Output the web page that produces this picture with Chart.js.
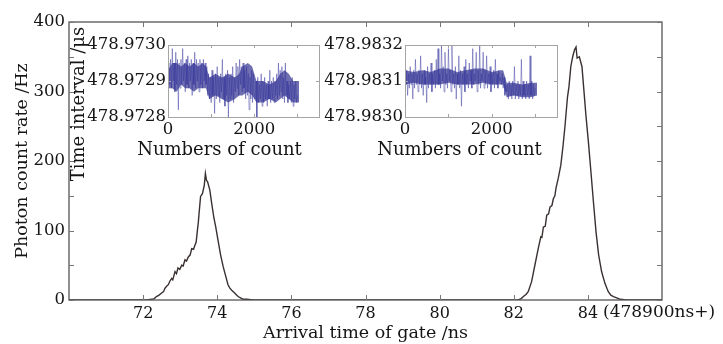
<!DOCTYPE html>
<html><head><meta charset="utf-8">
<script src="https://cdn.jsdelivr.net/npm/chart.js@4.4.1/dist/chart.umd.min.js"></script>
<style>
html,body{margin:0;padding:0;background:#fff;}
#wrap{position:relative;width:723px;height:344px;overflow:hidden;background:#fff;}
canvas{position:absolute;}
</style></head><body>
<div id="wrap">
<canvas id="main" width="723" height="344" style="left:0;top:0"></canvas>
<canvas id="in1" width="265" height="115" style="left:60px;top:25px"></canvas>
<canvas id="in2" width="263" height="115" style="left:300px;top:25px"></canvas>
</div>
<script>
// ---------- data ----------
const mainXTicks = [72, 74, 76, 78, 80, 82, 84];
const mainYTicks = [0, 100, 200, 300, 400];
const mainYMinor = [0, 50, 100, 150, 200, 250, 300, 350, 400];
const xUnitNote = "(478900ns+)";

const mainTime = [
 70, 72.0, 72.1, 72.23, 72.3, 72.36, 72.43, 72.5, 72.55, 72.59,
 72.64, 72.68, 72.72, 72.77, 72.8, 72.86, 72.9, 72.94, 72.99, 73.04,
 73.08, 73.13, 73.17, 73.22, 73.27, 73.31, 73.36, 73.4, 73.43, 73.46,
 73.49, 73.51, 73.55, 73.6, 73.65, 73.68, 73.71, 73.74, 73.8, 73.85,
 73.91, 73.96, 74.02, 74.09, 74.16, 74.23, 74.29, 74.34, 74.39, 74.47,
 74.56, 74.63, 74.7, 74.8, 74.97, 75.1, 82.0, 82.12, 82.2, 82.26,
 82.33, 82.39, 82.48, 82.57, 82.66, 82.73, 82.76, 82.8, 82.85, 82.89,
 82.94, 82.98, 83.03, 83.07, 83.11, 83.14, 83.2, 83.27, 83.33, 83.38,
 83.45, 83.49, 83.54, 83.59, 83.64, 83.68, 83.71, 83.77, 83.84, 83.9,
 83.95, 84.01, 84.08, 84.15, 84.22, 84.29, 84.37, 84.46, 84.55, 84.62,
 84.69, 84.78, 84.87, 85.05, 86
];
const mainRate = [
 0, 0, 0, 1, 2, 5, 7, 10, 12, 17,
 20, 22, 27, 31, 29, 41, 38, 46, 44, 50,
 49, 58, 56, 62, 65, 74, 73, 79, 83, 98,
 112, 125, 149, 153, 165, 182, 172, 170, 158, 139,
 118, 105, 86, 65, 48, 34, 22, 17, 14, 10,
 5, 3, 1, 1, 0, 0, 0, 0, 2, 5,
 8, 12, 26, 50, 74, 91, 90, 105, 106, 122,
 124, 134, 136, 146, 150, 161, 175, 194, 222, 249,
 292, 307, 336, 350, 360, 364, 348, 350, 336, 297,
 264, 230, 186, 141, 98, 65, 41, 24, 12, 7,
 5, 3, 1, 0, 0
];

const insetXTicks = [0, 2000];
const insetMinorX = [1000, 2000, 3000];
const insetCountStep = 20;
const inset1YTicks = [478.9728, 478.9729, 478.9730];
const inset2YTicks = [478.9830, 478.9831, 478.9832];

// dense core band of each inset trace (count, upper, lower)
const inset1CoreCount = [0, 100, 200, 300, 400, 500, 600, 700, 800, 880,
  960, 1100, 1250, 1400, 1550, 1650, 1720, 1850, 1950, 2050,
  2200, 2350, 2500, 2600, 2700, 2800, 2900, 3040];
const inset1CoreUpper = [478.97293, 478.97295, 478.97295, 478.97294, 478.97295, 478.97294, 478.97295, 478.97294, 478.97295, 478.97294,
  478.97291, 478.97292, 478.97291, 478.97292, 478.97291, 478.97292, 478.97294, 478.97295, 478.97294, 478.97290,
  478.97290, 478.97289, 478.97290, 478.97292, 478.97293, 478.97292, 478.97290, 478.97290];
const inset1CoreLower = [478.97288, 478.97288, 478.97287, 478.97289, 478.97288, 478.97288, 478.97287, 478.97288, 478.97288, 478.97288,
  478.97285, 478.97286, 478.97285, 478.97284, 478.97285, 478.97286, 478.97286, 478.97287, 478.97286, 478.97284,
  478.97284, 478.97285, 478.97284, 478.97285, 478.97286, 478.97285, 478.97284, 478.97284];
const inset2CoreCount = [0, 200, 400, 600, 800, 1000, 1200, 1400, 1600, 1800,
  2000, 2200, 2260, 2340, 2500, 2700, 2900, 3040];
const inset2CoreUpper = [478.98313, 478.983125, 478.98313, 478.983125, 478.983135, 478.983135, 478.983125, 478.98313, 478.983135, 478.983135,
  478.983125, 478.98313, 478.98313, 478.983095, 478.983095, 478.98309, 478.983095, 478.983095];
const inset2CoreLower = [478.98309, 478.983095, 478.98309, 478.98309, 478.98309, 478.983095, 478.98309, 478.98309, 478.98309, 478.983095,
  478.98309, 478.98309, 478.98309, 478.983055, 478.98306, 478.983055, 478.983055, 478.98306];

const inset1Interval = [
 478.97292,478.97295,478.97289,478.97296,478.97288,478.97299,478.97290,478.97295,478.97287,478.97298,
 478.97289,478.97296,478.97282,478.97295,478.97288,478.97296,478.97289,478.97299,478.97290,478.97295,
 478.97287,478.97296,478.97289,478.97297,478.97288,478.97295,478.97290,478.97296,478.97286,478.97295,
 478.97289,478.97298,478.97288,478.97296,478.97290,478.97295,478.97287,478.97296,478.97289,478.97295,
 478.97288,478.97296,478.97290,478.97295,478.97289,478.97294,
 478.97286,478.97292,478.97285,478.97291,478.97284,478.97293,478.97286,478.97291,478.97281,478.97292,
 478.97285,478.97294,478.97286,478.97291,478.97284,478.97292,478.97287,478.97296,478.97285,478.97291,
 478.97283,478.97292,478.97286,478.97293,478.97280,478.97291,478.97285,478.97292,478.97286,478.97294,
 478.97284,478.97291,478.97287,478.97295,478.97288,478.97294,478.97286,478.97296,478.97289,478.97294,
 478.97287,478.97295,478.97288,478.97293,478.97285,478.97294,478.97286,478.97292,478.97282,478.97291,
 478.97285,478.97293,478.97284,478.97292,478.97286,
 478.97285,478.97290,478.97280,478.97291,478.97284,478.97289,478.97285,478.97292,478.97283,478.97290,
 478.97284,478.97291,478.97285,478.97289,478.97283,478.97290,478.97285,478.97293,478.97284,478.97290,
 478.97285,478.97291,478.97284,478.97290,478.97286,478.97292,478.97285,478.97295,478.97286,478.97293,
 478.97287,478.97294,478.97285,478.97291,478.97284,478.97295,478.97286,478.97290,478.97284,478.97289,
 478.97285,478.97290,478.97284,478.97291,478.97283,478.97289,478.97285,478.97290,478.97284,478.97286
];

const inset2Interval = [
 478.98311,478.98309,478.98313,478.98306,478.98312,478.98308,478.98314,478.98309,478.98312,478.98305,
 478.98313,478.98308,478.98316,478.98309,478.98312,478.98307,478.98313,478.98309,478.98317,478.98308,
 478.98312,478.98306,478.98313,478.98309,478.98311,478.98304,478.98314,478.98308,478.98312,478.98309,
 478.98315,478.98307,478.98312,478.98309,478.98313,478.98308,478.98316,478.98309,
 478.98319,478.98309,478.98312,478.98308,478.98320,478.98310,478.98314,478.98307,478.98318,478.98309,
 478.98312,478.98308,478.98319,478.98310,478.98313,478.98307,478.98320,478.98309,
 478.98312,478.98308,478.98314,478.98305,478.98312,478.98309,478.98317,478.98308,478.98313,478.98303,
 478.98312,478.98309,478.98314,478.98307,478.98316,478.98309,478.98312,478.98308,478.98315,478.98310,
 478.98313,478.98308,
 478.98319,478.98309,478.98312,478.98310,478.98318,478.98307,478.98313,478.98309,478.98320,478.98308,
 478.98312,478.98310,478.98318,478.98308,478.98313,478.98309,478.98317,478.98308,
 478.98312,478.98309,478.98314,478.98307,478.98312,478.98309,478.98313,478.98308,478.98316,478.98309,
 478.98312,478.98308,478.98313,478.98310,478.98311,478.98309,478.98312,
 478.98308,478.98311,478.98306,478.98309,478.98307,
 478.98309,478.98305,478.98310,478.98306,478.98309,478.98305,478.98310,478.98306,478.98314,478.98305,
 478.98309,478.98306,478.98310,478.98305,478.98309,478.98306,478.98316,478.98305,478.98310,478.98306,
 478.98309,478.98305,478.98310,478.98306,478.98309,478.98305,478.98317,478.98306,478.98310,478.98305,
 478.98309,478.98306,478.98308
];

// ---------- rendering ----------
const FONT = '"DejaVu Serif", serif';
const TXT = '#151515';

function fixedTicks(list) { return function (scale) { scale.ticks = list.map(v => ({ value: v })); }; }

const mainDeco = {
  id: 'mainDeco',
  afterDraw(chart) {
    const { ctx, chartArea: a, scales: { x, y } } = chart;
    ctx.save();
    ctx.strokeStyle = '#555';
    ctx.lineWidth = 1.3;
    ctx.strokeRect(a.left, a.top, a.right - a.left, a.bottom - a.top);
    ctx.lineWidth = 1;
    ctx.strokeStyle = '#777';
    ctx.beginPath();
    mainXTicks.forEach(v => {
      const px = Math.round(x.getPixelForValue(v)) + 0.5;
      ctx.moveTo(px, a.bottom); ctx.lineTo(px, a.bottom - 5);
      ctx.moveTo(px, a.top); ctx.lineTo(px, a.top + 5);
    });
    mainYMinor.forEach(v => {
      const py = Math.round(y.getPixelForValue(v)) + 0.5;
      ctx.moveTo(a.left, py); ctx.lineTo(a.left + 5, py);
      ctx.moveTo(a.right, py); ctx.lineTo(a.right - 5, py);
    });
    ctx.stroke();

    ctx.fillStyle = TXT;
    ctx.font = '17px ' + FONT;
    ctx.textAlign = 'left'; ctx.textBaseline = 'middle';
    ctx.fillText(xUnitNote, 603, 313);

    ctx.font = '17.5px ' + FONT;
    ctx.textAlign = 'center';
    ctx.fillText('Arrival time of gate /ns', (a.left + a.right) / 2, 333);

    ctx.save();
    ctx.translate(22, 161); ctx.rotate(-Math.PI / 2);
    ctx.fillText('Photon count rate /Hz', 0, 0);
    ctx.restore();

    ctx.font = '18px ' + FONT;
    ctx.save();
    ctx.translate(79, 104); ctx.rotate(-Math.PI / 2);
    ctx.fillText('Time interval /\u03bcs', 0, 0);
    ctx.restore();

    ctx.fillText('Numbers of count', 219.5, 150);
    ctx.fillText('Numbers of count', 459.5, 150);
    ctx.restore();
  }
};

new Chart(document.getElementById('main'), {
  type: 'line',
  data: { datasets: [{
    data: mainTime.map((t, i) => ({ x: t, y: mainRate[i] })),
    borderColor: '#3a3030', borderWidth: 1.4, pointRadius: 0, tension: 0, fill: false
  }] },
  options: {
    responsive: false, animation: false, devicePixelRatio: 1,
    layout: { padding: { left: 0, top: 22, right: 61, bottom: 0 } },
    plugins: { legend: { display: false }, tooltip: { enabled: false } },
    scales: {
      x: { type: 'linear', min: 70, max: 86,
        afterBuildTicks: fixedTicks(mainXTicks), afterFit: s => { s.height = 44; },
        grid: { display: false, drawTicks: false }, border: { display: false },
        ticks: { font: { family: FONT, size: 16 }, color: TXT, padding: 4, maxRotation: 0, autoSkip: false } },
      y: { type: 'linear', min: 0, max: 400,
        afterBuildTicks: fixedTicks(mainYTicks), afterFit: s => { s.width = 69; },
        grid: { display: false, drawTicks: false }, border: { display: false },
        ticks: { font: { family: FONT, size: 16.5 }, color: TXT, padding: 4 } }
    }
  },
  plugins: [mainDeco]
});

const insetFrame = {
  id: 'insetFrame',
  afterDraw(chart) {
    const { ctx, chartArea: a, scales: { x, y } } = chart;
    ctx.save();
    ctx.strokeStyle = '#a4a4a4';
    ctx.lineWidth = 1;
    ctx.strokeRect(Math.round(a.left) + 0.5, Math.round(a.top) + 0.5, Math.round(a.right - a.left), Math.round(a.bottom - a.top));
    ctx.beginPath();
    insetMinorX.forEach(v => {
      const px = Math.round(x.getPixelForValue(v)) + 0.5;
      ctx.moveTo(px, a.bottom); ctx.lineTo(px, a.bottom - 3);
      ctx.moveTo(px, a.top); ctx.lineTo(px, a.top + 3);
    });
    const mid = Math.round(y.getPixelForValue(y.ticks[1].value)) + 0.5;
    ctx.moveTo(a.left, mid); ctx.lineTo(a.left + 3, mid);
    ctx.moveTo(a.right, mid); ctx.lineTo(a.right - 3, mid);
    ctx.stroke();
    ctx.restore();
  }
};

function makeInset(id, values, coreCount, coreUpper, coreLower, yTicks, yWidth) {
  new Chart(document.getElementById(id), {
    type: 'line',
    data: { datasets: [
      { data: values.map((v, i) => ({ x: i * insetCountStep, y: v })),
        borderColor: 'rgba(50,50,155,0.45)', borderWidth: 1, pointRadius: 0, tension: 0, clip: 0, fill: false },
      { data: coreCount.map((c, i) => ({ x: c, y: coreLower[i] })),
        borderColor: 'rgba(0,0,0,0)', borderWidth: 0, pointRadius: 0, tension: 0, fill: false },
      { data: coreCount.map((c, i) => ({ x: c, y: coreUpper[i] })),
        borderColor: 'rgba(0,0,0,0)', borderWidth: 0, pointRadius: 0, tension: 0,
        fill: '-1', backgroundColor: 'rgba(42,42,138,0.68)' }
    ] },
    options: {
      responsive: false, animation: false, devicePixelRatio: 1,
      layout: { padding: { left: 0, top: 20, right: 6, bottom: 0 } },
      plugins: { legend: { display: false }, tooltip: { enabled: false } },
      scales: {
        x: { type: 'linear', min: 0, max: 3500,
          afterBuildTicks: fixedTicks(insetXTicks), afterFit: s => { s.height = 23; },
          grid: { display: false, drawTicks: false }, border: { display: false },
          ticks: { font: { family: FONT, size: 16.5 }, color: TXT, padding: 3, maxRotation: 0, autoSkip: false,
                   callback: v => String(v) } },
        y: { type: 'linear', min: yTicks[0], max: yTicks[2],
          afterBuildTicks: fixedTicks(yTicks), afterFit: s => { s.width = yWidth; },
          grid: { display: false, drawTicks: false }, border: { display: false },
          ticks: { font: { family: FONT, size: 16.5 }, color: TXT, padding: 2, callback: v => Number(v).toFixed(4) } }
      }
    },
    plugins: [insetFrame]
  });
}
makeInset('in1', inset1Interval, inset1CoreCount, inset1CoreUpper, inset1CoreLower, inset1YTicks, 108);
makeInset('in2', inset2Interval, inset2CoreCount, inset2CoreUpper, inset2CoreLower, inset2YTicks, 105);
</script>
</body></html>
